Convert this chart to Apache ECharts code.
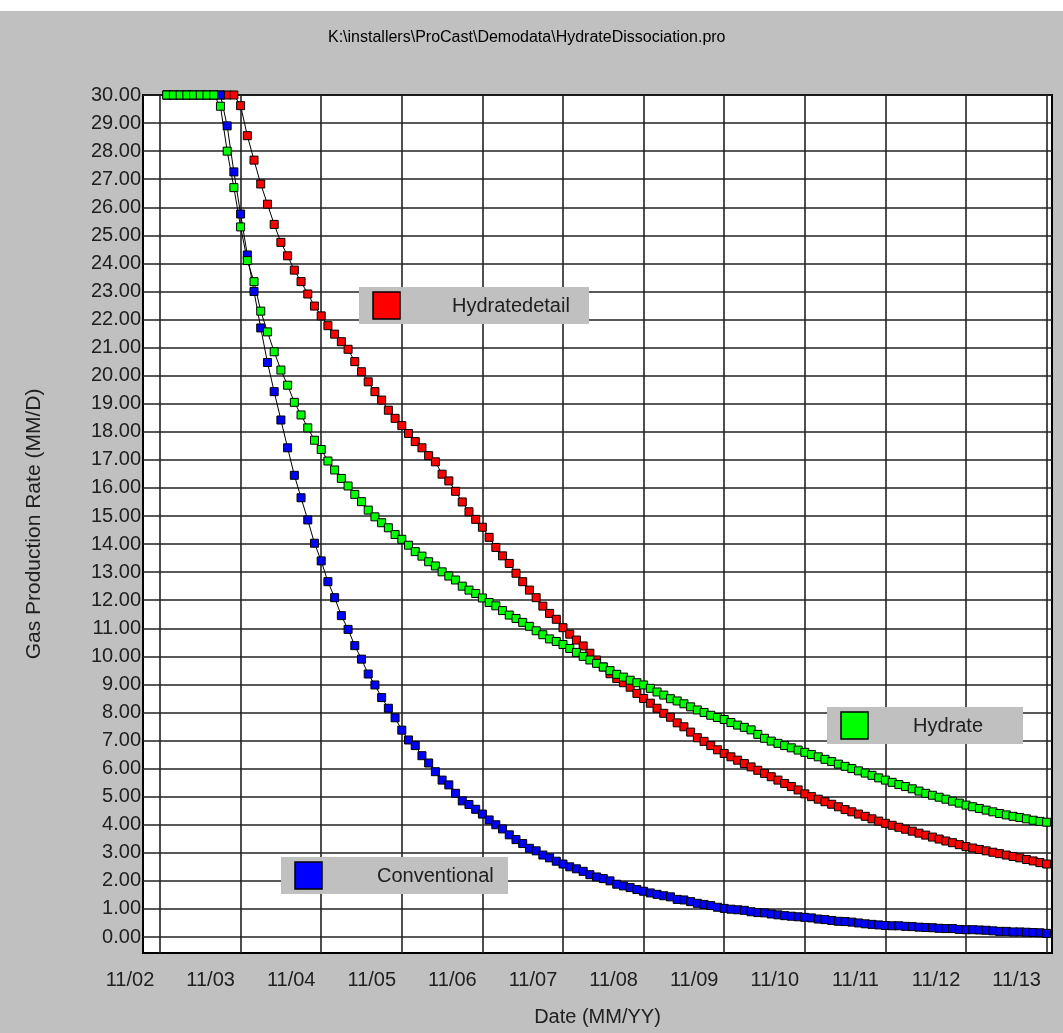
<!DOCTYPE html>
<html lang="en">
<head>
    <meta charset="UTF-8">
    <title>HydrateDissociation</title>
    <style>
        html, body { margin: 0; padding: 0; background: #c0c0c0; }
        #container { width: 1063px; height: 1033px; }
    </style>
</head>
<body>
<div id="container"></div>
<script type="text/javascript" src="https://cdn.jsdelivr.net/npm/echarts@6.0.0/dist/echarts.min.js"></script>
<script type="text/javascript">
    // x axis is counted in months from the 11/02 gridline
    var tickMonths = [0, 12, 24, 36, 48, 60, 72, 84, 96, 108, 120, 132];
    var xLabels = ['11/02', '11/03', '11/04', '11/05', '11/06', '11/07', '11/08',
        '11/09', '11/10', '11/11', '11/12', '11/13'];
    var yTicks = [0, 1, 2, 3, 4, 5, 6, 7, 8, 9, 10, 11, 12, 13, 14, 15, 16, 17, 18, 19, 20,
        21, 22, 23, 24, 25, 26, 27, 28, 29, 30];
    var firstMonth = 1;

    // monthly rates, one row per year
    var conventional = [
        30, 30, 30, 30, 30, 30, 30, 30, 30, 28.9, 27.26, 25.76,
        24.3, 23.0, 21.7, 20.47, 19.43, 18.42, 17.43, 16.45, 15.65, 14.86, 14.03, 13.4,
        12.66, 12.09, 11.45, 10.96, 10.38, 9.9, 9.37, 8.98, 8.53, 8.15, 7.81, 7.37,
        7.02, 6.82, 6.46, 6.2, 5.89, 5.59, 5.42, 5.12, 4.85, 4.72, 4.55, 4.38,
        4.17, 4.0, 3.85, 3.64, 3.47, 3.33, 3.16, 3.07, 2.92, 2.82, 2.7, 2.6,
        2.5, 2.43, 2.34, 2.22, 2.14, 2.08, 2.0, 1.88, 1.82, 1.76, 1.69, 1.63,
        1.57, 1.52, 1.47, 1.43, 1.34, 1.32, 1.26, 1.2, 1.16, 1.12, 1.06, 1.02,
        0.99, 0.97, 0.95, 0.9, 0.87, 0.86, 0.82, 0.79, 0.76, 0.74, 0.72, 0.7,
        0.68, 0.64, 0.62, 0.59, 0.56, 0.55, 0.53, 0.5, 0.47, 0.45, 0.43, 0.41,
        0.4, 0.4, 0.38, 0.37, 0.35, 0.34, 0.33, 0.31, 0.3, 0.3, 0.27, 0.26,
        0.26, 0.25, 0.24, 0.22, 0.2, 0.2, 0.18, 0.18, 0.17, 0.16, 0.15, 0.13
    ];
    var hydrate = [
        30, 30, 30, 30, 30, 30, 30, 30, 29.6, 28.0, 26.7, 25.3,
        24.1, 23.35, 22.3, 21.56, 20.85, 20.2, 19.66, 19.05, 18.6, 18.14, 17.7, 17.37,
        16.96, 16.64, 16.34, 16.07, 15.77, 15.51, 15.21, 14.97, 14.76, 14.58, 14.34, 14.17,
        13.96, 13.73, 13.57, 13.37, 13.22, 13.01, 12.86, 12.72, 12.5, 12.36, 12.24, 12.08,
        11.92, 11.8, 11.63, 11.47, 11.35, 11.21, 11.07, 10.91, 10.77, 10.62, 10.53, 10.42,
        10.28, 10.14, 10.0, 9.87, 9.75, 9.62, 9.49, 9.36, 9.26, 9.15, 9.06, 8.98,
        8.86, 8.73, 8.62, 8.49, 8.41, 8.31, 8.2, 8.09, 8.0, 7.9, 7.82, 7.75,
        7.64, 7.55, 7.47, 7.38, 7.22, 7.08, 6.98, 6.9, 6.82, 6.74, 6.66, 6.58,
        6.5, 6.42, 6.33, 6.25, 6.16, 6.08, 6.0, 5.92, 5.84, 5.76, 5.67, 5.59,
        5.51, 5.43, 5.36, 5.28, 5.2, 5.12, 5.05, 4.98, 4.91, 4.84, 4.77, 4.7,
        4.64, 4.58, 4.52, 4.46, 4.4, 4.35, 4.3, 4.26, 4.21, 4.16, 4.12, 4.09
    ];
    var hydrateDetail = [
        30, 30, 30, 30, 30, 30, 30, 30, 30, 30, 30, 29.62,
        28.55, 27.68, 26.83, 26.11, 25.39, 24.75, 24.27, 23.76, 23.35, 22.91, 22.48, 22.13,
        21.78, 21.48, 21.21, 20.94, 20.5, 20.14, 19.78, 19.43, 19.13, 18.77, 18.48, 18.22,
        17.94, 17.65, 17.43, 17.15, 16.93, 16.49, 16.25, 15.88, 15.5, 15.15, 14.88, 14.6,
        14.24, 13.88, 13.58, 13.31, 12.96, 12.66, 12.36, 12.09, 11.79, 11.53, 11.32, 11.02,
        10.79, 10.58, 10.37, 10.11, 9.87, 9.62, 9.38, 9.21, 9.06, 8.9, 8.68, 8.5,
        8.33, 8.15, 7.97, 7.83, 7.63, 7.49, 7.3, 7.1, 6.97, 6.82, 6.67, 6.54,
        6.42, 6.3, 6.18, 6.06, 5.94, 5.83, 5.71, 5.59, 5.47, 5.36, 5.24, 5.1,
        5.0, 4.91, 4.82, 4.73, 4.64, 4.54, 4.46, 4.38, 4.3, 4.21, 4.13, 4.05,
        3.98, 3.91, 3.84, 3.77, 3.7, 3.63, 3.56, 3.49, 3.42, 3.36, 3.29, 3.22,
        3.17, 3.12, 3.07, 3.02, 2.97, 2.92, 2.87, 2.82, 2.76, 2.71, 2.65, 2.6
    ];

    var font = "'Liberation Sans', Arial, sans-serif";

    var makeSeries = function (name, color, values) {
        return {
            name: name,
            type: 'line',
            data: values.map(function (v, i) { return [firstMonth + i, v]; }),
            symbol: 'rect',
            symbolSize: 8,
            itemStyle: {color: color, borderColor: '#000', borderWidth: 1},
            lineStyle: {color: '#000', width: 1},
            emphasis: {disabled: true},
            silent: true
        };
    };

    var legendBox = function (x, y, w, color, label, textX) {
        return [
            {type: 'rect', shape: {x: x, y: y, width: w, height: 37}, style: {fill: '#c0c0c0'}, z: 100},
            {type: 'rect', shape: {x: x + 14, y: y + 5, width: 27, height: 27},
                style: {fill: color, stroke: '#000', lineWidth: 1.5}, z: 101},
            {type: 'text', x: textX, y: y + 19,
                style: {text: label, fill: '#202020', font: '20px ' + font, verticalAlign: 'middle'}, z: 101}
        ];
    };

    var dom = document.getElementById('container');
    var myChart = echarts.init(dom);

    var option = {
        backgroundColor: '#c0c0c0',
        animation: false,
        title: {
            text: 'K:\\installers\\ProCast\\Demodata\\HydrateDissociation.pro',
            left: 323,
            top: 25,
            textStyle: {fontFamily: font, fontSize: 16, fontWeight: 'normal', color: '#000'}
        },
        grid: {
            left: 143,
            top: 95,
            right: 11,
            bottom: 80,
            show: true,
            backgroundColor: '#fff',
            borderColor: '#000',
            borderWidth: 2,
            outerBoundsMode: 'none'
        },
        xAxis: {
            type: 'value',
            min: -2.53,
            max: 132.8,
            name: 'Date (MM/YY)',
            nameLocation: 'middle',
            nameGap: 54,
            nameTextStyle: {fontFamily: font, fontSize: 20, color: '#202020'},
            axisLine: {show: false},
            axisTick: {show: false, customValues: tickMonths},
            splitLine: {show: true, lineStyle: {color: '#222', width: 1.6}},
            axisLabel: {
                customValues: tickMonths,
                fontFamily: font,
                fontSize: 20,
                color: '#202020',
                margin: 17,
                padding: [0, 60, 0, 0],
                formatter: function (v) { return xLabels[tickMonths.indexOf(v)]; }
            }
        },
        yAxis: {
            type: 'value',
            min: -0.57,
            max: 30,
            name: 'Gas Production Rate (MM/D)',
            nameLocation: 'middle',
            nameGap: 98,
            nameTextStyle: {fontFamily: font, fontSize: 21, color: '#202020'},
            axisLine: {show: false},
            axisTick: {show: false, customValues: yTicks},
            splitLine: {show: true, lineStyle: {color: '#222', width: 1.6}},
            axisLabel: {
                customValues: yTicks,
                fontFamily: font,
                fontSize: 20,
                color: '#202020',
                margin: 2,
                formatter: function (v) { return v.toFixed(2); }
            }
        },
        graphic: [].concat(
            [{type: 'rect', shape: {x: 0, y: 0, width: 1063, height: 11}, style: {fill: '#fff'}}],
            legendBox(359, 287, 230, '#ff0000', 'Hydratedetail', 452),
            legendBox(827, 707, 196, '#00ff00', 'Hydrate', 913),
            legendBox(281, 857, 227, '#0000ff', 'Conventional', 377)
        ),
        series: [
            makeSeries('Hydratedetail', '#ff0000', hydrateDetail),
            makeSeries('Conventional', '#0000ff', conventional),
            makeSeries('Hydrate', '#00ff00', hydrate)
        ]
    };

    myChart.setOption(option, true);
</script>
</body>
</html>
